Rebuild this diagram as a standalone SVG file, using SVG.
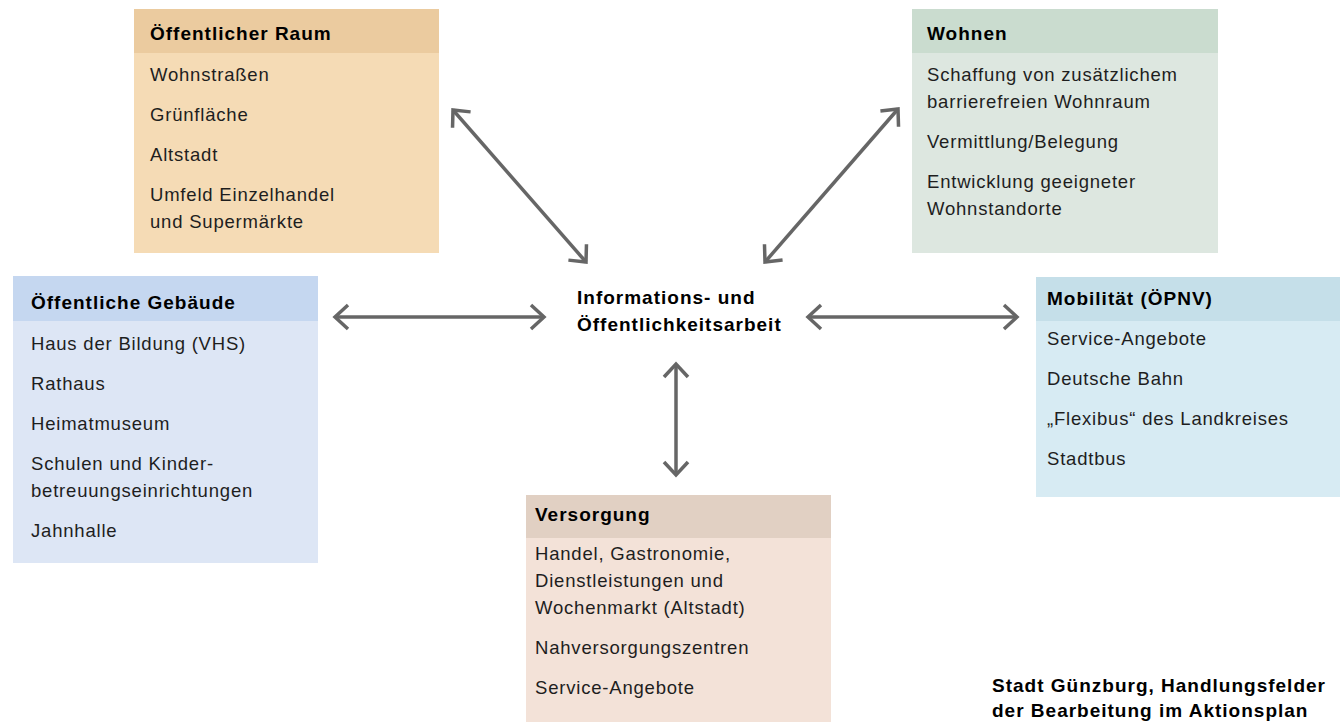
<svg xmlns="http://www.w3.org/2000/svg" width="1340" height="722" viewBox="0 0 1340 722">
<style>
text{font-family:"Liberation Sans",Arial,sans-serif;font-size:18.5px;fill:#1e1e1e;letter-spacing:0.8px}
.h{font-weight:bold;fill:#000;font-size:19px;letter-spacing:1px}
.c{font-weight:bold;fill:#000;font-size:19px;letter-spacing:1px}
.t{font-weight:bold;fill:#000;font-size:19px;letter-spacing:1px}
.arr{stroke:#666;stroke-width:3.5;fill:none}
</style>
<defs>
<marker id="ah" markerUnits="userSpaceOnUse" viewBox="-16 -14 20 28" refX="0" refY="0" markerWidth="20" markerHeight="28" orient="auto-start-reverse">
<path d="M-13,-12 L0,0 L-13,12" fill="none" stroke="#666" stroke-width="3.5"/>
</marker>
</defs>
<rect width="1340" height="722" fill="#fff"/>
<g id="oeffentlicher-raum">
<rect x="134" y="9" width="305" height="244" fill="#F5DBB5"/>
<rect x="134" y="9" width="305" height="44" fill="#EBCB9F"/>
<text class="h" x="150" y="40">Öffentlicher Raum</text>
<text x="150" y="81">Wohnstraßen</text>
<text x="150" y="121">Grünfläche</text>
<text x="150" y="161">Altstadt</text>
<text x="150" y="201">Umfeld Einzelhandel</text>
<text x="150" y="228">und Supermärkte</text>
</g>
<g id="wohnen">
<rect x="912" y="9" width="306" height="244" fill="#DDE7E0"/>
<rect x="912" y="9" width="306" height="44" fill="#CADCCF"/>
<text class="h" x="927" y="40">Wohnen</text>
<text x="927" y="81">Schaffung von zusätzlichem</text>
<text x="927" y="108">barrierefreien Wohnraum</text>
<text x="927" y="148">Vermittlung/Belegung</text>
<text x="927" y="188">Entwicklung geeigneter</text>
<text x="927" y="215">Wohnstandorte</text>
</g>
<g id="oeffentliche-gebaeude">
<rect x="13" y="276" width="305" height="287" fill="#DDE6F5"/>
<rect x="13" y="276" width="305" height="45" fill="#C5D7F0"/>
<text class="h" x="31" y="309">Öffentliche Gebäude</text>
<text x="31" y="350">Haus der Bildung (VHS)</text>
<text x="31" y="390">Rathaus</text>
<text x="31" y="430">Heimatmuseum</text>
<text x="31" y="470">Schulen und Kinder-</text>
<text x="31" y="497">betreuungseinrichtungen</text>
<text x="31" y="537">Jahnhalle</text>
</g>
<g id="mobilitaet">
<rect x="1036" y="277" width="304" height="220" fill="#D7EBF3"/>
<rect x="1036" y="277" width="304" height="44" fill="#C5DFE9"/>
<text class="h" x="1047" y="305">Mobilität (ÖPNV)</text>
<text x="1047" y="345">Service-Angebote</text>
<text x="1047" y="385">Deutsche Bahn</text>
<text x="1047" y="425">„Flexibus“ des Landkreises</text>
<text x="1047" y="465">Stadtbus</text>
</g>
<g id="versorgung">
<rect x="526" y="495" width="305" height="227" fill="#F3E2D8"/>
<rect x="526" y="495" width="305" height="43" fill="#E1D0C3"/>
<text class="h" x="535" y="521">Versorgung</text>
<text x="535" y="560">Handel, Gastronomie,</text>
<text x="535" y="587">Dienstleistungen und</text>
<text x="535" y="614">Wochenmarkt (Altstadt)</text>
<text x="535" y="654">Nahversorgungszentren</text>
<text x="535" y="694">Service-Angebote</text>
</g>
<g id="zentrum">
<text class="c" x="577" y="304">Informations- und</text>
<text class="c" x="577" y="331">Öffentlichkeitsarbeit</text>
</g>
<g id="connectors">
<line class="arr" x1="453" y1="110" x2="586" y2="262" marker-start="url(#ah)" marker-end="url(#ah)"/>
<line class="arr" x1="898" y1="109" x2="765" y2="262" marker-start="url(#ah)" marker-end="url(#ah)"/>
<line class="arr" x1="335" y1="317" x2="544" y2="317" marker-start="url(#ah)" marker-end="url(#ah)"/>
<line class="arr" x1="808" y1="317" x2="1017" y2="317" marker-start="url(#ah)" marker-end="url(#ah)"/>
<line class="arr" x1="676" y1="364" x2="676" y2="475" marker-start="url(#ah)" marker-end="url(#ah)"/>
</g>
<g id="titel">
<text class="t" x="992" y="692">Stadt Günzburg, Handlungsfelder</text>
<text class="t" x="992" y="717">der Bearbeitung im Aktionsplan</text>
</g>
</svg>
